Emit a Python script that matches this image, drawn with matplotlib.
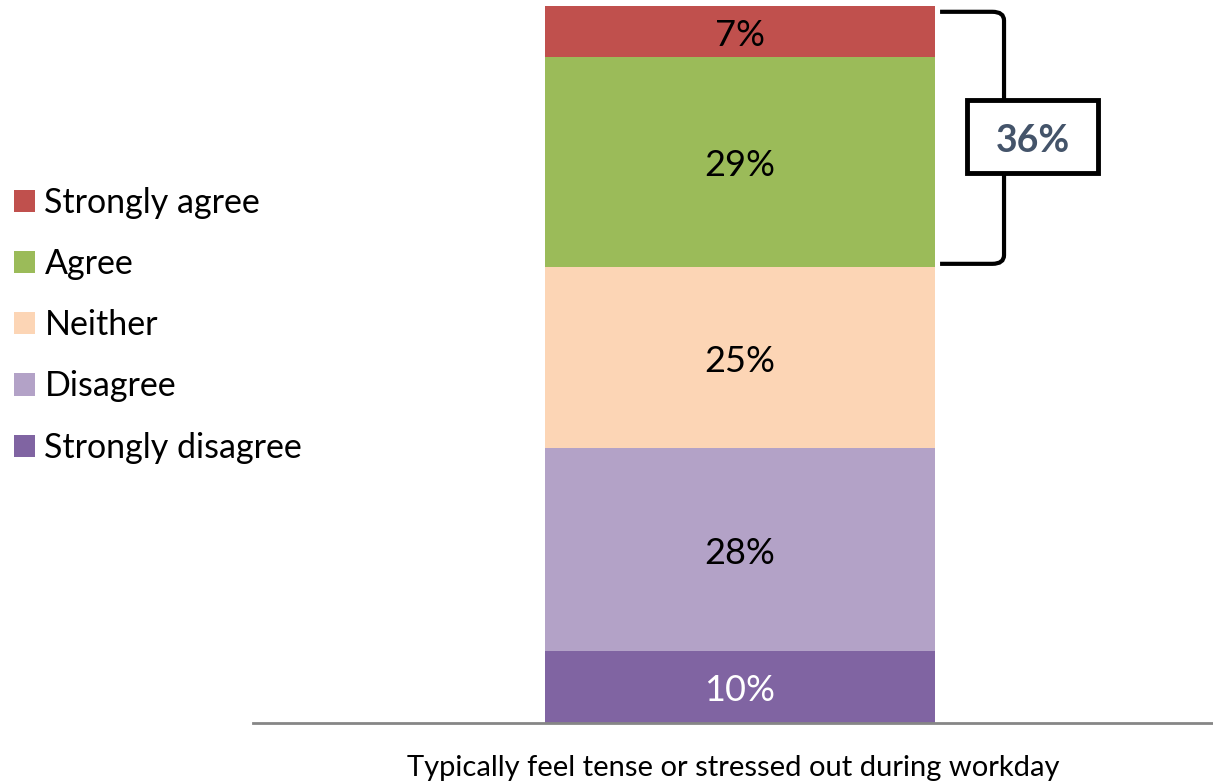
import matplotlib
matplotlib.use("Agg")
import matplotlib.pyplot as plt
from matplotlib.patches import Rectangle
from matplotlib.path import Path
from matplotlib.patches import PathPatch

plt.rcParams['font.family'] = ['Lato', 'DejaVu Sans']

category = "Typically feel tense or stressed out during workday"
labels = ["Strongly disagree", "Disagree", "Neither", "Agree", "Strongly agree"]
values = [10, 28, 25, 29, 7]
colors = ["#8064A2", "#B3A2C7", "#FCD5B5", "#9BBB59", "#C0504D"]
text_colors = ["white", "black", "black", "black", "black"]

W, H = 1213, 782
fig = plt.figure(figsize=(W / 100, H / 100), dpi=100)
ax = fig.add_axes([253 / W, (782 - 723) / H, 1 - 253 / W, (723 - 6) / H])

total = sum(values)
bottom = 0
bars = []
for lab, v, c, tc in zip(labels, values, colors, text_colors):
    b = ax.bar(0, v, width=1.0, bottom=bottom, color=c, label=lab, zorder=2)
    bars.append(b)
    ax.annotate(f"{v}%", xy=(0, bottom + v / 2), xytext=(0, -3),
                textcoords="offset points", ha="center", va="center",
                fontsize=26, color=tc, zorder=3)
    bottom += v

ax.set_xlim(-487 / 390, 473 / 390)
ax.set_ylim(0, total)
for s in ["top", "right", "left"]:
    ax.spines[s].set_visible(False)
ax.spines["bottom"].set_color("#868686")
ax.spines["bottom"].set_linewidth(2)
ax.set_yticks([])
ax.set_xticks([])
ax.set_xlabel(category, fontsize=21, labelpad=23)

# bracket around the agree + strongly agree share
agree_share = values[3] + values[4]
y_lo = values[0] + values[1] + values[2] + 0.4
y_hi = total - 0.8
x0, x1 = 0.513, 0.677
r = 0.03
verts = [(x0, y_hi), (x1 - r, y_hi), (x1, y_hi), (x1, y_hi - 1.2),
         (x1, y_lo + 1.2), (x1, y_lo), (x1 - r, y_lo), (x0, y_lo)]
codes = [Path.MOVETO, Path.LINETO, Path.CURVE3, Path.CURVE3,
         Path.LINETO, Path.CURVE3, Path.CURVE3, Path.LINETO]
ax.add_patch(PathPatch(Path(verts, codes), fill=False, lw=3, color="black",
                       clip_on=False, zorder=3))
bx0, bx1, by0, by1 = 0.582, 0.918, 76.0, 86.0
ax.add_patch(Rectangle((bx0, by0), bx1 - bx0, by1 - by0, facecolor="white",
                       edgecolor="black", lw=3.5, clip_on=False, zorder=4))
ax.annotate(f"{agree_share}%", xy=((bx0 + bx1) / 2, (by0 + by1) / 2),
            xytext=(0, -3), textcoords="offset points", ha="center",
            va="center", fontsize=27, fontweight="bold", color="#44546A",
            zorder=5, annotation_clip=False)

handles = [b.patches[0] for b in bars][::-1]
fig.legend(handles, labels[::-1], loc="upper left",
           bbox_to_anchor=(4 / W, (782 - 177) / H), frameon=False,
           fontsize=24.5, handlelength=0.62, handleheight=0.62,
           handletextpad=0.27, labelspacing=0.855, borderaxespad=0.0,
           borderpad=0.3)

fig.savefig("out.png", dpi=100)
